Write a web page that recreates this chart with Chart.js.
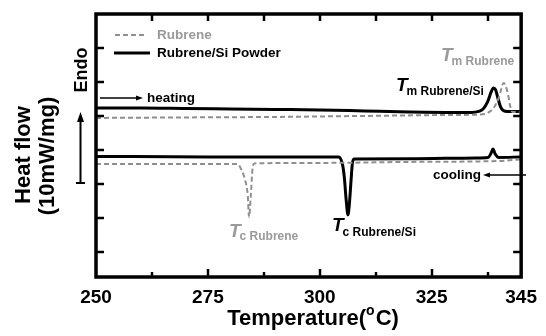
<!DOCTYPE html>
<html>
<head>
<meta charset="utf-8">
<script src="https://cdn.jsdelivr.net/npm/chart.js@4.4.1/dist/chart.umd.min.js"></script>
<style>
html,body{margin:0;padding:0;background:#fff;}
#wrap{width:546px;height:336px;position:relative;}
</style>
</head>
<body>
<div id="wrap"><canvas id="c" width="546" height="336"></canvas></div>
<script>
// ---- data ----
const seriesNames = ["Rubrene", "Rubrene/Si Powder"];
const xTickLabels = [250, 275, 300, 325, 345];
const xMinorTicks = [262.5, 287.5, 312.5, 337.5];
const yTickValues = [0, 1, 2, 3, 4, 5, 6, 7];

// heating, Rubrene/Si powder (solid black)
const heatSiT = [250,260,270,280,290,300,310,320,330,334,335.5,336.5,337.5,338.3,338.8,339.3,339.8,340.4,341,342,345];
const heatSiV = [4.235,4.235,4.221,4.206,4.191,4.176,4.147,4.118,4.103,4.103,4.132,4.206,4.412,4.706,4.824,4.765,4.529,4.265,4.162,4.132,4.132];
// heating, Rubrene (grey dashed)
const heatRT = [250,270,290,310,330,336,337.9,339,340,341.1,342,342.5,343,345];
const heatRV = [3.941,3.956,3.971,4.0,4.029,4.044,4.118,4.265,4.529,4.971,4.676,4.324,4.118,4.118];
// cooling, Rubrene/Si powder
const coolSiT = [250,275,300,304.2,305.1,305.5,305.9,306.3,306.6,307.0,307.3,307.7,320,335,337.6,338.3,338.7,339.2,340,345];
const coolSiV = [2.809,2.794,2.794,2.794,2.559,2.176,1.529,1.088,1.382,2.118,2.618,2.735,2.74,2.765,2.779,2.912,3.029,2.882,2.779,2.794];
// cooling, Rubrene
const coolRT = [250,270,281.6,282.5,283.3,283.9,284.2,284.6,285.0,285.4,300,320,340,345];
const coolRV = [2.588,2.588,2.588,2.412,2.118,1.676,1.029,1.676,2.471,2.603,2.618,2.647,2.676,2.72];

const pts = (xs, ys) => xs.map((x, i) => ({x: x, y: ys[i]}));

const GREY = '#8f8f8f';
const GREYTXT = '#9a9a9a';
const FONT = '"Liberation Sans", Arial, sans-serif';

const decor = {
  id: 'decor',
  afterDraw(chart) {
    const ctx = chart.ctx;
    const a = chart.chartArea;
    const xs = chart.scales.x, ys = chart.scales.y;
    ctx.save();
    // frame
    ctx.strokeStyle = '#000';
    ctx.lineWidth = 3.5;
    ctx.strokeRect(a.left, a.top, a.right - a.left, a.bottom - a.top);
    // x ticks
    ctx.lineWidth = 2.5;
    ctx.beginPath();
    xTickLabels.slice(1, 4).forEach(v => {
      const px = Math.round(xs.getPixelForValue(v));
      ctx.moveTo(px, a.bottom); ctx.lineTo(px, a.bottom - 8);
      ctx.moveTo(px, a.top); ctx.lineTo(px, a.top + 7);
    });
    xMinorTicks.forEach(v => {
      const px = Math.round(xs.getPixelForValue(v));
      ctx.moveTo(px, a.bottom); ctx.lineTo(px, a.bottom - 5);
      ctx.moveTo(px, a.top); ctx.lineTo(px, a.top + 7);
    });
    // y ticks
    yTickValues.forEach(v => {
      const py = Math.round(ys.getPixelForValue(v));
      if (py <= a.top + 2 || py >= a.bottom - 2) return;
      ctx.moveTo(a.left, py); ctx.lineTo(a.left + 8, py);
      ctx.moveTo(a.right, py); ctx.lineTo(a.right - 8, py);
    });
    ctx.stroke();

    // legend
    ctx.lineWidth = 2;
    ctx.strokeStyle = GREY;
    ctx.setLineDash([5, 3]);
    ctx.beginPath(); ctx.moveTo(115, 35); ctx.lineTo(147, 35); ctx.stroke();
    ctx.setLineDash([]);
    ctx.lineWidth = 3;
    ctx.strokeStyle = '#000';
    ctx.beginPath(); ctx.moveTo(114, 53); ctx.lineTo(150, 53); ctx.stroke();
    ctx.font = 'bold 13.5px ' + FONT;
    ctx.textBaseline = 'middle';
    ctx.textAlign = 'left';
    ctx.fillStyle = GREYTXT;
    ctx.fillText(seriesNames[0], 157, 35);
    ctx.fillStyle = '#000';
    ctx.fillText(seriesNames[1], 157, 53);

    // heating arrow
    ctx.lineWidth = 1.3;
    ctx.beginPath(); ctx.moveTo(100, 98); ctx.lineTo(138, 98); ctx.stroke();
    ctx.beginPath(); ctx.moveTo(143, 98); ctx.lineTo(136, 95.5); ctx.lineTo(136, 100.5); ctx.closePath(); ctx.fill();
    ctx.fillText('heating', 147, 98);
    // cooling arrow
    ctx.beginPath(); ctx.moveTo(488, 175); ctx.lineTo(526, 175); ctx.stroke();
    ctx.beginPath(); ctx.moveTo(483, 175); ctx.lineTo(490, 172.5); ctx.lineTo(490, 177.5); ctx.closePath(); ctx.fill();
    ctx.fillText('cooling', 433, 175);

    // vertical scale arrow
    ctx.lineWidth = 2;
    ctx.beginPath(); ctx.moveTo(80.5, 183); ctx.lineTo(80.5, 120); ctx.stroke();
    ctx.beginPath(); ctx.moveTo(76, 183); ctx.lineTo(85, 183); ctx.stroke();
    ctx.beginPath(); ctx.moveTo(80.5, 112); ctx.lineTo(77, 122); ctx.lineTo(84, 122); ctx.closePath(); ctx.fill();

    // labels T_m, T_c
    function tlabel(x, yT, yS, sub, color) {
      ctx.fillStyle = color;
      ctx.textBaseline = 'alphabetic';
      ctx.font = 'italic bold 19px ' + FONT;
      ctx.fillText('T', x, yT);
      const w = ctx.measureText('T').width;
      ctx.font = 'bold 12px ' + FONT;
      ctx.fillText(sub, x + w - 1, yS);
    }
    tlabel(441, 61, 64.5, 'm Rubrene', GREYTXT);
    tlabel(396, 91, 95, 'm Rubrene/Si', '#000');
    tlabel(229, 237, 240, 'c Rubrene', GREYTXT);
    tlabel(332, 231, 236, 'c Rubrene/Si', '#000');

    // Endo
    ctx.fillStyle = '#000';
    ctx.save();
    ctx.translate(86.5, 70);
    ctx.rotate(-Math.PI / 2);
    ctx.font = 'bold 18px ' + FONT;
    ctx.textAlign = 'center';
    ctx.textBaseline = 'alphabetic';
    ctx.fillText('Endo', 0, 0);
    ctx.restore();

    // y title
    ctx.save();
    ctx.translate(30, 155);
    ctx.rotate(-Math.PI / 2);
    ctx.font = 'bold 22px ' + FONT;
    ctx.textAlign = 'center';
    ctx.fillText('Heat flow', 0, 0);
    ctx.restore();
    ctx.save();
    ctx.translate(54, 156);
    ctx.rotate(-Math.PI / 2);
    ctx.font = 'bold 22px ' + FONT;
    ctx.textAlign = 'center';
    ctx.fillText('(10mW/mg)', 0, 0);
    ctx.restore();

    // x title with superscript o
    ctx.textAlign = 'left';
    ctx.textBaseline = 'alphabetic';
    ctx.font = 'bold 22px ' + FONT;
    const p1 = 'Temperature(', p3 = 'C)';
    const w1 = ctx.measureText(p1).width, w3 = ctx.measureText(p3).width;
    ctx.font = 'bold 14px ' + FONT;
    const w2 = ctx.measureText('o').width;
    const total = w1 + w2 + 1 + w3;
    let x0 = 313 - total / 2;
    ctx.font = 'bold 22px ' + FONT;
    ctx.fillText(p1, x0, 325);
    ctx.font = 'bold 14px ' + FONT;
    ctx.fillText('o', x0 + w1, 315);
    ctx.font = 'bold 22px ' + FONT;
    ctx.fillText(p3, x0 + w1 + w2 + 1, 325);
    ctx.restore();
  }
};

new Chart(document.getElementById('c'), {
  type: 'scatter',
  data: {
    datasets: [
      {label: seriesNames[0] + ' heating', data: pts(heatRT, heatRV), showLine: true, borderColor: GREY, borderWidth: 2, borderDash: [5, 3], pointRadius: 0, tension: 0.35, cubicInterpolationMode: 'monotone'},
      {label: seriesNames[0] + ' cooling', data: pts(coolRT, coolRV), showLine: true, borderColor: GREY, borderWidth: 2, borderDash: [5, 3], pointRadius: 0, tension: 0.35, cubicInterpolationMode: 'monotone'},
      {label: seriesNames[1] + ' heating', data: pts(heatSiT, heatSiV), showLine: true, borderColor: '#000', borderWidth: 3, pointRadius: 0, tension: 0.35, cubicInterpolationMode: 'monotone'},
      {label: seriesNames[1] + ' cooling', data: pts(coolSiT, coolSiV), showLine: true, borderColor: '#000', borderWidth: 3, pointRadius: 0, tension: 0.35, cubicInterpolationMode: 'monotone'}
    ]
  },
  options: {
    responsive: false,
    animation: false,
    devicePixelRatio: 1,
    layout: {padding: {top: 14, right: 17, left: 0, bottom: 0}},
    plugins: {legend: {display: false}, tooltip: {enabled: false}},
    scales: {
      x: {
        type: 'linear', min: 250, max: 345,
        grid: {display: false, drawTicks: false},
        border: {display: false},
        afterBuildTicks: s => { s.ticks = xTickLabels.map(v => ({value: v})); },
        afterFit: s => { s.height = 59; },
        ticks: {color: '#000', font: {family: FONT, size: 19, weight: 'bold'}, padding: 9, maxRotation: 0, autoSkip: false}
      },
      y: {
        type: 'linear', min: -0.74, max: 7,
        grid: {display: false, drawTicks: false},
        border: {display: false},
        ticks: {display: false},
        afterFit: s => { s.width = 96; }
      }
    }
  },
  plugins: [decor]
});
</script>
</body>
</html>
